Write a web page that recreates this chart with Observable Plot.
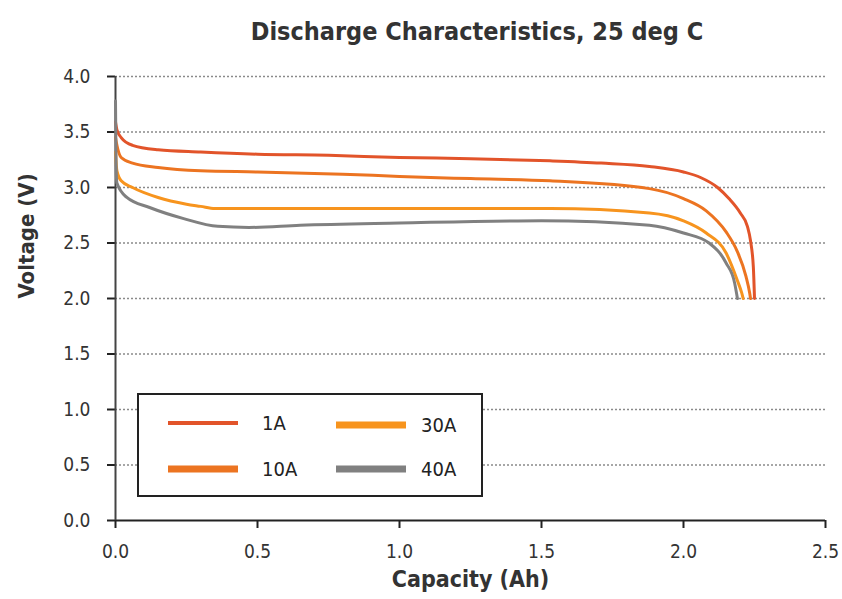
<!DOCTYPE html>
<html><head><meta charset="utf-8">
<script src="https://cdn.jsdelivr.net/npm/d3@7"></script>
<script src="https://cdn.jsdelivr.net/npm/@observablehq/plot@0.6"></script>
<style>
body{margin:0;background:#fff;font-family:"DejaVu Sans Condensed","DejaVu Sans",sans-serif;}
#wrap{position:relative;width:842px;height:599px;overflow:hidden;}
#title{position:absolute;left:56px;width:842px;top:19px;line-height:25px;text-align:center;font-size:25px;font-weight:bold;color:#333;}
#legend{position:absolute;left:137px;top:393px;width:342px;height:100px;border:2px solid #222;background:#fff;box-sizing:content-box;}
.item{position:absolute;height:20px;font-size:20px;color:#222;}
.item svg{position:absolute;left:0;top:0;}
.item span{position:absolute;top:0;line-height:20px;}
</style>
</head><body>
<div id="wrap">
<div id="title">Discharge Characteristics, 25 deg C</div>
<div id="chart"></div>
<div id="legend"></div>
</div>
<script>
const series = ["1A", "10A", "30A", "40A"];
const colors = ["#e2542a", "#ec7421", "#f7941e", "#808080"];
const legendWidths = [4, 7, 7, 7];

const cap1A  = [0, 0.005, 0.02, 0.06, 0.15, 0.3, 0.5, 0.75, 1.0, 1.25, 1.53, 1.71, 1.88, 2.0, 2.06, 2.12, 2.16, 2.2, 2.225, 2.236, 2.246, 2.25];
const volt1A = [3.59, 3.52, 3.45, 3.38, 3.34, 3.32, 3.30, 3.29, 3.27, 3.26, 3.24, 3.22, 3.19, 3.14, 3.09, 3.0, 2.9, 2.77, 2.65, 2.52, 2.28, 2.0];

const cap10A  = [0, 0.005, 0.02, 0.06, 0.15, 0.3, 0.5, 0.8, 1.0, 1.25, 1.53, 1.88, 2.0, 2.08, 2.15, 2.19, 2.22, 2.233, 2.236];
const volt10A = [3.45, 3.38, 3.27, 3.22, 3.18, 3.15, 3.14, 3.12, 3.10, 3.08, 3.06, 2.99, 2.90, 2.79, 2.6, 2.42, 2.2, 2.05, 2.0];

const cap30A  = [0, 0.005, 0.02, 0.06, 0.15, 0.25, 0.3, 0.35, 0.6, 1.0, 1.53, 1.88, 2.0, 2.08, 2.15, 2.19, 2.205, 2.21];
const volt30A = [3.32, 3.15, 3.06, 3.0, 2.91, 2.85, 2.83, 2.81, 2.81, 2.81, 2.81, 2.77, 2.70, 2.59, 2.41, 2.16, 2.05, 2.0];

const cap40A  = [0, 0.002, 0.005, 0.04, 0.12, 0.24, 0.36, 0.47, 0.65, 1.0, 1.5, 1.88, 2.0, 2.09, 2.15, 2.18, 2.19];
const volt40A = [3.78, 3.2, 3.04, 2.91, 2.82, 2.72, 2.65, 2.64, 2.66, 2.68, 2.70, 2.66, 2.59, 2.50, 2.32, 2.14, 2.0];

const yTicks = [0, 0.5, 1.0, 1.5, 2.0, 2.5, 3.0, 3.5, 4.0];
const xTicks = [0, 0.5, 1.0, 1.5, 2.0, 2.5];
const xLabel = "Capacity (Ah)";
const yLabel = "Voltage (V)";

const caps = [cap1A, cap10A, cap30A, cap40A];
const volts = [volt1A, volt10A, volt30A, volt40A];
const data = [];
series.forEach((s, i) => caps[i].forEach((c, j) => data.push({series: s, cap: c, volt: volts[i][j]})));

const fmt = d => d.toFixed(1);
const font = "'DejaVu Sans Condensed','DejaVu Sans',sans-serif";

const chart = Plot.plot({
  width: 842, height: 599,
  marginLeft: 115, marginRight: 17, marginTop: 76, marginBottom: 79,
  x: {domain: [0, 2.5]},
  y: {domain: [0, 4]},
  color: {domain: series, range: colors},
  style: {fontFamily: font, fontSize: "19px", color: "#333", background: "transparent"},
  marks: [
    Plot.gridY(yTicks.filter(d => d > 0), {stroke: "#8a8a8a", strokeOpacity: 1, strokeDasharray: "2,2", strokeWidth: 1.3}),
    Plot.axisY(yTicks, {tickSize: 8, tickPadding: 17, tickFormat: fmt, label: null, stroke: "#222", strokeWidth: 2, fill: "#333", fontSize: 19}),
    Plot.axisX(xTicks, {tickSize: 8, tickPadding: 16, tickFormat: fmt, label: null, stroke: "#222", strokeWidth: 2, fill: "#333", fontSize: 19}),
    Plot.ruleY([0], {stroke: "#222", strokeWidth: 2}),
    Plot.ruleX([0], {stroke: "#444", strokeWidth: 2}),
    Plot.line(data, {x: "cap", y: "volt", stroke: "series", z: "series", strokeWidth: 3, curve: "monotone-x"}),
    Plot.text([yLabel], {frameAnchor: "left", rotate: -90, dx: -89, fontWeight: "bold", fontSize: 22, fill: "#333"}),
    Plot.text([xLabel], {frameAnchor: "bottom", dy: 66, fontWeight: "bold", fontSize: 23, fill: "#333"})
  ]
});
document.getElementById("chart").appendChild(chart);

// legend
const legend = document.getElementById("legend");
const pos = [
  {left: 28, top: 18, tx: 95},
  {left: 28, top: 64, tx: 95},
  {left: 196, top: 20, tx: 86},
  {left: 196, top: 64, tx: 86}
];
series.forEach((s, i) => {
  const p = pos[i];
  const el = document.createElement("div");
  el.className = "item";
  el.style.left = p.left + "px";
  el.style.top = p.top + "px";
  el.style.width = "150px";
  el.innerHTML = `<svg width="72" height="20"><line x1="1" x2="71" y1="10" y2="10" stroke="${colors[i]}" stroke-width="${legendWidths[i]}"/></svg><span style="left:${p.tx}px">${s}</span>`;
  legend.appendChild(el);
});
</script>
</body></html>
